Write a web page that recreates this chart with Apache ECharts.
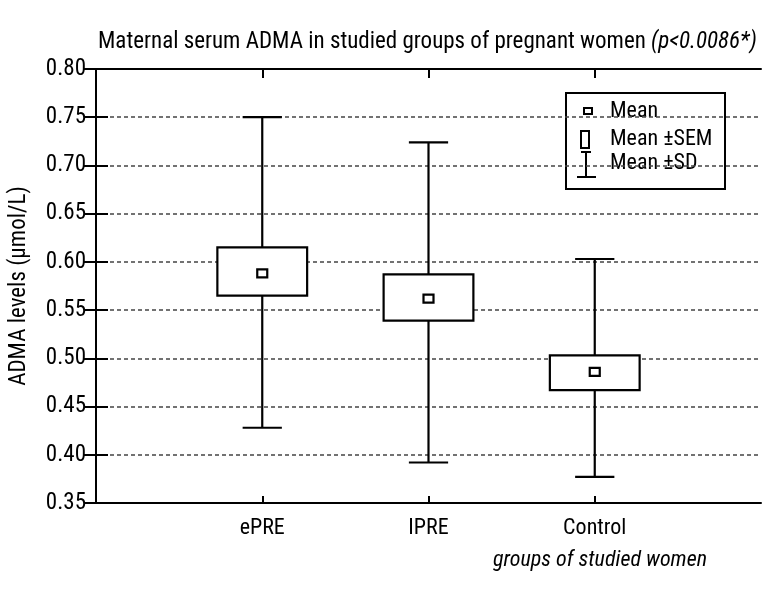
<!DOCTYPE html>
<html>
<head>
<meta charset="utf-8">
<title>ADMA</title>
<script src="https://cdn.jsdelivr.net/npm/echarts@6/dist/echarts.min.js"></script>
<style>
  html, body { margin: 0; padding: 0; background: #fff; }
  #container { width: 771px; height: 591px; }
</style>
</head>
<body>
<div id="container"></div>
<script type="text/javascript">
// groups and their statistics (umol/L)
var groups = ['ePRE', 'IPRE', 'Control'];
var groupPos = [1, 2, 3];
var meanVals = [0.588, 0.562, 0.486];
var semLow = [0.565, 0.539, 0.467];
var semHigh = [0.615, 0.587, 0.503];
var sdLow = [0.428, 0.392, 0.377];
var sdHigh = [0.750, 0.724, 0.603];

var FONT = '"Roboto Condensed", "DejaVu Sans Condensed", sans-serif';

var data = [];
for (var i = 0; i < groups.length; i++) {
    data.push([groupPos[i], meanVals[i], semLow[i], semHigh[i], sdLow[i], sdHigh[i]]);
}

function renderItem(params, api) {
    var x = api.value(0);
    var pMean = api.coord([x, api.value(1)]);
    var pSemLo = api.coord([x, api.value(2)]);
    var pSemHi = api.coord([x, api.value(3)]);
    var pSdLo = api.coord([x, api.value(4)]);
    var pSdHi = api.coord([x, api.value(5)]);
    var halfBox = api.size([0.27, 0])[0];
    var halfCap = api.size([0.118, 0])[0];
    var line = { stroke: '#000', lineWidth: 2.2 };
    return {
        type: 'group',
        children: [
            { type: 'line', shape: { x1: pSdHi[0], y1: pSdHi[1], x2: pSdLo[0], y2: pSdLo[1] }, style: line },
            { type: 'line', shape: { x1: pSdHi[0] - halfCap, y1: pSdHi[1], x2: pSdHi[0] + halfCap, y2: pSdHi[1] }, style: line },
            { type: 'line', shape: { x1: pSdLo[0] - halfCap, y1: pSdLo[1], x2: pSdLo[0] + halfCap, y2: pSdLo[1] }, style: line },
            { type: 'rect', shape: { x: pSemHi[0] - halfBox, y: pSemHi[1], width: halfBox * 2, height: pSemLo[1] - pSemHi[1] },
              style: { fill: '#fff', stroke: '#000', lineWidth: 2.2 } },
            { type: 'rect', shape: { x: pMean[0] - 5, y: pMean[1] - 4, width: 10, height: 8 },
              style: { fill: '#fff', stroke: '#000', lineWidth: 2.2 } }
        ]
    };
}

var dom = document.getElementById('container');
var myChart = echarts.init(dom);

var option = {
    backgroundColor: '#fff',
    animation: false,
    textStyle: { fontFamily: FONT, color: '#000' },
    title: [{
        text: '{a|Maternal serum ADMA in studied groups of pregnant women }{b|(p<0.0086*)}',
        left: 93,
        top: 26,
        textStyle: {
            fontWeight: 'normal',
            rich: {
                a: { fontFamily: FONT, fontSize: 23, color: '#000' },
                b: { fontFamily: FONT, fontSize: 23, fontStyle: 'italic', color: '#000' }
            }
        }
    }, {
        text: 'groups of studied women',
        left: 595,
        textAlign: 'center',
        top: 544,
        textStyle: { fontFamily: FONT, fontSize: 22, fontStyle: 'italic', fontWeight: 'normal', color: '#000' }
    }],
    grid: { left: 95, right: 10, top: 69, bottom: 88 },
    xAxis: [{
        type: 'value',
        min: 0,
        max: 4,
        interval: 1,
        axisLine: { lineStyle: { color: '#000', width: 2 } },
        axisTick: { inside: true, length: 7, customValues: groupPos, lineStyle: { color: '#000', width: 2 } },
        axisLabel: {
            customValues: groupPos,
            formatter: function (v) { return groups[groupPos.indexOf(v)] || ''; },
            fontFamily: FONT, fontSize: 22, color: '#000', margin: 14
        },
        splitLine: { show: false }
    }, {
        type: 'value',
        position: 'top',
        min: 0,
        max: 4,
        interval: 1,
        axisLine: { show: true, lineStyle: { color: '#000', width: 2 } },
        axisTick: { inside: true, length: 9, customValues: groupPos, lineStyle: { color: '#000', width: 2 } },
        axisLabel: { show: false },
        splitLine: { show: false }
    }],
    yAxis: [{
        type: 'value',
        min: 0.35,
        max: 0.80,
        interval: 0.05,
        name: 'ADMA levels (µmol/L)',
        nameLocation: 'middle',
        nameGap: 65,
        nameTextStyle: { fontFamily: FONT, fontSize: 23, color: '#000' },
        axisLine: { show: true, lineStyle: { color: '#000', width: 2 } },
        axisTick: { show: true, inside: true, length: 12, lineStyle: { color: '#000', width: 2 } },
        axisLabel: {
            formatter: function (v) { return v.toFixed(2); },
            fontFamily: FONT, fontSize: 23, color: '#000', margin: 10
        },
        splitLine: { show: true, lineStyle: { color: '#444', width: 1.5, type: [4, 3] } }
    }, {
        type: 'value',
        position: 'right',
        min: 0.35,
        max: 0.80,
        interval: 0.05,
        axisLine: { show: true, lineStyle: { color: '#000', width: 2 } },
        axisTick: { show: true, inside: true, length: 12, lineStyle: { color: '#000', width: 2 } },
        axisLabel: { show: false },
        splitLine: { show: false }
    }],
    series: [{
        type: 'custom',
        name: 'ADMA',
        renderItem: renderItem,
        encode: { x: 0, y: [1, 2, 3, 4, 5] },
        data: data,
        z: 3
    }],
    graphic: [{
        type: 'group',
        left: 565,
        top: 92,
        z: 100,
        children: [
            { type: 'rect', shape: { x: 0, y: 0, width: 159, height: 96 }, style: { fill: '#fff', stroke: '#000', lineWidth: 2 } },
            { type: 'rect', shape: { x: 18, y: 15, width: 8, height: 6 }, style: { fill: '#fff', stroke: '#000', lineWidth: 2 } },
            { type: 'text', x: 44, y: 18, style: { text: 'Mean', font: '22px ' + FONT, fill: '#000', verticalAlign: 'middle' } },
            { type: 'rect', shape: { x: 15, y: 38, width: 8, height: 17 }, style: { fill: '#fff', stroke: '#000', lineWidth: 2 } },
            { type: 'text', x: 44, y: 46, style: { text: 'Mean ±SEM', font: '22px ' + FONT, fill: '#000', verticalAlign: 'middle' } },
            { type: 'line', shape: { x1: 20, y1: 59, x2: 20, y2: 84 }, style: { stroke: '#000', lineWidth: 2 } },
            { type: 'line', shape: { x1: 15, y1: 59, x2: 25, y2: 59 }, style: { stroke: '#000', lineWidth: 2 } },
            { type: 'line', shape: { x1: 11, y1: 84, x2: 30, y2: 84 }, style: { stroke: '#000', lineWidth: 2 } },
            { type: 'text', x: 44, y: 70, style: { text: 'Mean ±SD', font: '22px ' + FONT, fill: '#000', verticalAlign: 'middle' } }
        ]
    }]
};

myChart.setOption(option);
</script>
</body>
</html>
